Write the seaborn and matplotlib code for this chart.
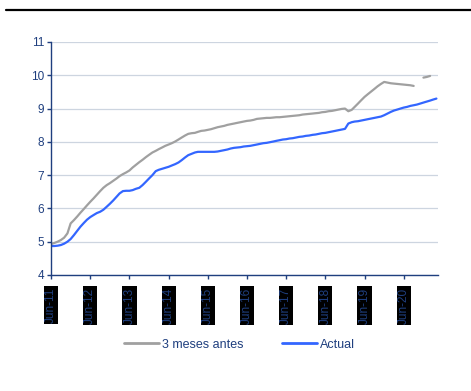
import numpy as np
import pandas as pd
import seaborn as sns
import matplotlib
matplotlib.use("Agg")
import matplotlib.pyplot as plt
from matplotlib.lines import Line2D

# Monthly series, June 2011 onwards
start_month = "2011-06-01"

tres_meses_antes = [
    4.93, 4.96, 5.00, 5.05, 5.12, 5.25, 5.55, 5.65, 5.76, 5.87, 5.98, 6.09,
    6.20, 6.30, 6.41, 6.52, 6.62, 6.70, 6.76, 6.83, 6.90, 6.97, 7.03, 7.08,
    7.14, 7.23, 7.31, 7.39, 7.46, 7.54, 7.61, 7.68, 7.73, 7.78, 7.83, 7.88,
    7.92, 7.96, 8.01, 8.07, 8.13, 8.19, 8.24, 8.26, 8.27, 8.30, 8.33, 8.34,
    8.36, 8.38, 8.41, 8.44, 8.46, 8.48, 8.51, 8.53, 8.55, 8.57, 8.59, 8.61,
    8.63, 8.64, 8.66, 8.69, 8.70, 8.71, 8.72, 8.72, 8.73, 8.74, 8.74, 8.75,
    8.76, 8.77, 8.78, 8.79, 8.80, 8.82, 8.83, 8.84, 8.85, 8.86, 8.87, 8.89,
    8.90, 8.92, 8.93, 8.95, 8.97, 8.99, 9.00, 8.92, 8.96, 9.05, 9.15, 9.25,
    9.35, 9.43, 9.51, 9.59, 9.67, 9.74, 9.80, 9.78, 9.76, 9.75, 9.74, 9.73,
    9.72, 9.71, 9.70, 9.68, np.nan, np.nan, 9.93, 9.95, 9.98, np.nan, np.nan,
]

actual = [
    4.87, 4.87, 4.88, 4.90, 4.94, 5.00, 5.08, 5.20, 5.33, 5.45, 5.56, 5.66,
    5.74, 5.80, 5.86, 5.90, 5.96, 6.05, 6.14, 6.24, 6.35, 6.45, 6.52, 6.53,
    6.53, 6.55, 6.59, 6.62, 6.70, 6.80, 6.90, 7.00, 7.12, 7.16, 7.19, 7.22,
    7.25, 7.29, 7.33, 7.38, 7.45, 7.53, 7.60, 7.64, 7.68, 7.70, 7.70, 7.70,
    7.70, 7.70, 7.70, 7.71, 7.73, 7.75, 7.77, 7.80, 7.82, 7.83, 7.84, 7.86,
    7.87, 7.88, 7.90, 7.92, 7.94, 7.96, 7.97, 7.99, 8.01, 8.03, 8.05, 8.07,
    8.08, 8.10, 8.11, 8.13, 8.15, 8.16, 8.18, 8.19, 8.21, 8.22, 8.24, 8.26,
    8.27, 8.29, 8.31, 8.33, 8.35, 8.37, 8.39, 8.55, 8.59, 8.61, 8.62, 8.64,
    8.66, 8.68, 8.70, 8.72, 8.74, 8.76, 8.80, 8.85, 8.90, 8.94, 8.97, 9.00,
    9.03, 9.05, 9.08, 9.10, 9.12, 9.15, 9.18, 9.21, 9.24, 9.27, 9.30,
]

series_names = ["3 meses antes", "Actual"]
series_colors = ["#A0A0A0", "#3366FF"]
tick_labels = ["Jun-11", "Jun-12", "Jun-13", "Jun-14", "Jun-15",
               "Jun-16", "Jun-17", "Jun-18", "Jun-19", "Jun-20"]
y_ticks = [4, 5, 6, 7, 8, 9, 10, 11]

navy = "#1F3F7F"

fechas = pd.date_range(start_month, periods=len(actual), freq="MS")

frames = []
for name, vals in zip(series_names, [tres_meses_antes, actual]):
    s = pd.Series(vals, dtype=float)
    tramo = s.isna().cumsum()          # break the line where data is missing
    d = pd.DataFrame({"fecha": fechas, "valor": s, "serie": name,
                      "tramo": tramo})
    frames.append(d.dropna())
df = pd.concat(frames, ignore_index=True)
df["unidad"] = df["serie"] + "_" + df["tramo"].astype(str)

sns.set_style("white")
plt.rcParams["font.family"] = ["Liberation Sans", "DejaVu Sans"]

fig = plt.figure(figsize=(4.71, 3.91), dpi=100)
ax = fig.add_axes([0.1083, 0.2967, 0.8217, 0.5959])

sns.lineplot(data=df, x="fecha", y="valor", hue="serie", units="unidad",
             estimator=None, palette=dict(zip(series_names, series_colors)),
             hue_order=series_names, linewidth=1.6, ax=ax, legend=False)

ax.set_ylim(4, 11)
ax.set_yticks(y_ticks)
ax.set_xlim(fechas[0], fechas[-1] + pd.Timedelta(days=15))
tick_dates = pd.date_range(start_month, periods=len(tick_labels), freq="12MS")
ax.set_xticks(tick_dates)
ax.set_xticklabels(tick_labels, rotation=90, fontsize=8.5, color=navy,
                   va="top", ha="center")
for lbl in ax.get_xticklabels():
    lbl.set_bbox(dict(facecolor="black", edgecolor="none", pad=0.8))

ax.set_xlabel("")
ax.set_ylabel("")
ax.grid(axis="y", color="#CDD5E0", linewidth=0.9)
ax.grid(axis="x", visible=False)
ax.set_axisbelow(True)

for side in ["top", "right"]:
    ax.spines[side].set_visible(False)
for side in ["left", "bottom"]:
    ax.spines[side].set_color(navy)
    ax.spines[side].set_linewidth(1.0)

ax.tick_params(axis="y", which="major", direction="out", length=3, width=1,
               color=navy, labelcolor=navy, labelsize=8.5, pad=2, left=True)
ax.tick_params(axis="x", which="major", direction="out", length=3, width=1,
               color=navy, pad=6, bottom=True)

handles = [Line2D([], [], color=c, linewidth=2.0) for c in series_colors]
leg = fig.legend(handles, series_names, loc="center",
                 bbox_to_anchor=(0.508, 0.118), ncol=2, frameon=False,
                 fontsize=9, handlelength=2.8, handletextpad=0.25,
                 columnspacing=3.1)
for t in leg.get_texts():
    t.set_color(navy)

# Rule across the top of the figure
fig.add_artist(Line2D([0.013, 1.0], [0.974, 0.974], color="black",
                      linewidth=1.6, transform=fig.transFigure))

fig.savefig("out.png", dpi=100, facecolor="white")
